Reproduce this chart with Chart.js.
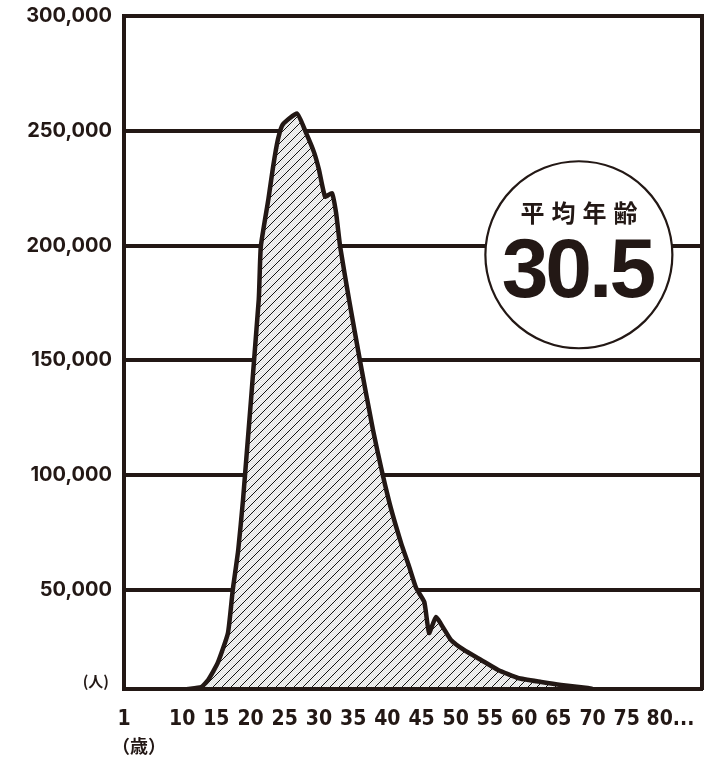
<!DOCTYPE html>
<html lang="ja">
<head>
<meta charset="utf-8">
<title>年齢分布</title>
<script src="https://cdn.jsdelivr.net/npm/chart.js@4.4.1/dist/chart.umd.min.js"></script>
<style>
  html, body { margin: 0; padding: 0; background: #fff; }
  #wrap { position: relative; width: 711px; height: 758px; }
</style>
</head>
<body>
<div id="wrap"><canvas id="ageChart"></canvas></div>
<script>
// values (age in years, number of people)
const ages   = [10.8, 12.8, 13.8, 15.2, 16.7, 17.4, 18.2, 18.9, 21.2, 21.5, 22.6, 23.3, 24.0, 24.7,
                26.8, 28.1, 29.3, 30.0, 30.9, 31.9, 32.5, 33.1, 34.4, 36.0, 37.9, 40.2, 42.0, 43.2,
                44.2, 45.4, 46.1, 47.1, 48.1, 49.3, 51.2, 53.7, 56.2, 59.1, 62.5, 65.4, 69.3, 70.0];
const people = [6850, 7720, 10770, 18180, 31260, 50000, 67440, 89240, 176420, 199520, 220010, 234390, 246160, 252700,
                257500, 249210, 240490, 233080, 221310, 222830, 214330, 199520, 176420, 149830, 119750, 89240, 70490, 60030,
                50870, 44770, 31260, 38230, 33880, 28210, 23850, 19490, 15130, 11640, 9900, 8590, 7290, 6850];

const yTicks = [50000, 100000, 150000, 200000, 250000, 300000];
const xTickAges = [1, 10, 15, 20, 25, 30, 35, 40, 45, 50, 55, 60, 65, 70, 75, 80];
const xTickLabels = ['1', '10', '15', '20', '25', '30', '35', '40', '45', '50', '55', '60', '65', '70', '75', '\u200380...'];

const badgeTitle = '平均年齢';
const averageAge = '30.5';
const unitPeople = '(人)';
const unitAge = '（歳）';

const ink = '#231815';

// hatch pattern for the area under the curve
function makeHatch(ctx) {
    const tile = document.createElement('canvas');
    tile.width = 9;
    tile.height = 9;
    const t = tile.getContext('2d');
    t.fillStyle = '#f4f4f4';
    t.fillRect(0, 0, 9, 9);
    t.fillStyle = '#e2e2e2';
    for (let i = 0; i < 9; i++) {
        for (let j = 0; j < 9; j++) {
            if ((i + j) % 2 === 0) t.fillRect(i, j, 1, 1);
        }
    }
    t.fillStyle = '#111';
    for (let i = 0; i < 9; i++) {
        t.fillRect(i, 8 - i, 1, 1);
    }
    return ctx.createPattern(tile, 'repeat');
}

// circle with the average age, plus the unit labels
const badgePlugin = {
    id: 'badge',
    afterDraw(chart) {
        const ctx = chart.ctx;
        const area = chart.chartArea;
        const x = chart.scales.x;
        const y = chart.scales.y;
        const cx = x.getPixelForValue(68.0);
        const cy = y.getPixelForValue(196000);

        ctx.save();
        ctx.beginPath();
        ctx.arc(cx, cy, 93.5, 0, Math.PI * 2);
        ctx.fillStyle = '#fff';
        ctx.fill();
        ctx.lineWidth = 2.2;
        ctx.strokeStyle = ink;
        ctx.stroke();

        ctx.fillStyle = ink;
        ctx.textAlign = 'center';
        ctx.textBaseline = 'middle';
        ctx.font = "bold 24px 'Noto Sans CJK JP'";
        ctx.letterSpacing = '7px';
        ctx.fillText(badgeTitle, cx + 3.5, cy - 42);

        ctx.textBaseline = 'alphabetic';
        ctx.font = "bold 84px 'Liberation Sans', Arial, sans-serif";
        ctx.letterSpacing = '-3px';
        ctx.fillText(averageAge, cx - 1.5, cy + 42);

        ctx.letterSpacing = '0px';
        ctx.textBaseline = 'middle';
        ctx.textAlign = 'right';
        ctx.font = "bold 15px 'Noto Sans CJK JP'";
        ctx.fillText(unitPeople, area.left - 15, area.bottom - 8);

        ctx.textAlign = 'center';
        ctx.font = "bold 18px 'Noto Sans CJK JP'";
        ctx.fillText(unitAge, area.left + 15, area.bottom + 57);
        ctx.restore();
    }
};

document.addEventListener('DOMContentLoaded', function () {
    const canvas = document.getElementById('ageChart');
    const hatch = makeHatch(canvas.getContext('2d'));

    new Chart(canvas, {
        type: 'line',
        data: {
            datasets: [{
                data: ages.map((a, i) => ({ x: a, y: people[i] })),
                borderColor: ink,
                borderWidth: 4.5,
                backgroundColor: hatch,
                fill: 'start',
                tension: 0.15,
                pointRadius: 0,
                borderJoinStyle: 'miter'
            }]
        },
        options: {
            responsive: true,
            maintainAspectRatio: false,
            animation: false,
            layout: { padding: { top: 16, right: 9, bottom: 0, left: 0 } },
            plugins: {
                legend: { display: false },
                tooltip: { enabled: false }
            },
            scales: {
                x: {
                    type: 'linear',
                    min: 1.5,
                    max: 86,
                    grid: { display: false, drawTicks: false },
                    border: { display: true, color: ink, width: 4, z: 1 },
                    afterBuildTicks: scale => {
                        scale.ticks = xTickAges.map(v => ({ value: Math.max(v, scale.min) }));
                    },
                    afterFit: scale => {
                        scale.height = 69;
                        scale.paddingLeft = 0;
                        scale.paddingRight = 0;
                    },
                    ticks: {
                        autoSkip: false,
                        maxRotation: 0,
                        padding: 18,
                        color: ink,
                        font: { family: "'Liberation Sans Narrow', 'DejaVu Sans Condensed', sans-serif", size: 21, weight: 'bold' },
                        callback: (value, index) => xTickLabels[index]
                    }
                },
                y: {
                    min: 6850,
                    max: 300000,
                    grid: { color: ink, lineWidth: 4, drawTicks: false },
                    border: { display: true, color: ink, width: 4, z: 1 },
                    afterBuildTicks: scale => {
                        scale.ticks = yTicks.map(v => ({ value: v }));
                    },
                    afterFit: scale => {
                        scale.width = 124;
                        scale.paddingTop = 0;
                        scale.paddingBottom = 0;
                    },
                    ticks: {
                        padding: 12,
                        color: ink,
                        font: { family: 'Inter', size: 20, weight: 'bold', lineHeight: 1.05 },
                        callback: value => value.toLocaleString('en-US')
                    }
                },
                y2: {
                    position: 'right',
                    min: 6850,
                    max: 300000,
                    grid: { drawOnChartArea: false, drawTicks: false },
                    border: { display: true, color: ink, width: 4, z: 1 },
                    ticks: { display: false }
                }
            }
        },
        plugins: [badgePlugin]
    });
});
</script>
</body>
</html>
